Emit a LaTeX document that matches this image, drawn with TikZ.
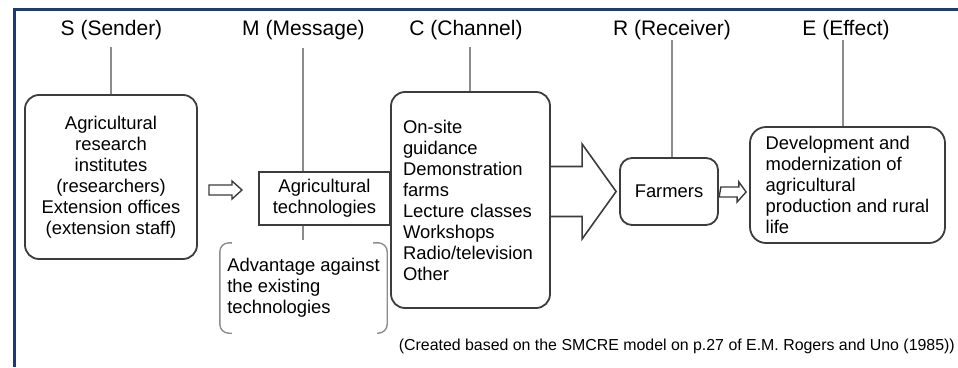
\documentclass[tikz,border=0pt]{standalone}
\usepackage{fontspec}
\setmainfont{Liberation Sans}
\usetikzlibrary{calc}
\definecolor{framenavy}{RGB}{31,56,120}
\definecolor{boxline}{RGB}{60,60,60}
\definecolor{stemgray}{RGB}{140,140,140}

\begin{document}
\begin{tikzpicture}[x=1pt,y=-1pt,
  body/.style={font=\fontsize{18.4}{21}\selectfont},
  head/.style={font=\fontsize{21}{25}\selectfont, inner sep=0pt, anchor=base},
  roundbox/.style={body, draw=boxline, line width=1.8pt, inner sep=0pt},
  stem/.style={draw=stemgray, line width=1.2pt},
  hollow/.style={draw=boxline, line width=1.4pt, line join=miter},
  bracket/.style={draw=stemgray, line width=1.4pt, rounded corners=9pt},
]
\useasboundingbox (0,0) rectangle (958,367);

% outer frame (top and left edges only)
\draw[framenavy, line width=2.2pt] (14.5,367) -- (14.5,9.5) -- (958,9.5);

% column headings
\node[head] (hS) at (111.5,35.5) {S (Sender)};
\node[head] (hM) at (303.5,35.5) {M (Message)};
\node[head] (hC) at (466,35.5) {C (Channel)};
\node[head] (hR) at (672,35.5) {R (Receiver)};
\node[head] (hE) at (846,35.5) {E (Effect)};

% boxes
\node[roundbox, rounded corners=14pt, minimum width=172pt, minimum height=164pt, align=center]
  (sbox) at (111,177) {Agricultural\\research\\institutes\\(researchers)\\Extension offices\\(extension staff)};
\node[body, draw=boxline, line width=1.5pt, inner sep=0pt, minimum width=131pt, minimum height=53pt, align=center]
  (mbox) at (324.5,198.5) {Agricultural\\technologies};
\node[roundbox, rounded corners=14pt, minimum width=159pt, minimum height=216pt, text width=135pt, align=left]
  (cbox) at (470.5,200) {On-site\\guidance\\Demonstration\\farms\\Lecture classes\\Workshops\\Radio/television\\Other};
\node[roundbox, rounded corners=12pt, minimum width=98pt, minimum height=67pt]
  (rbox) at (669,191.5) {Farmers};
\node[roundbox, rounded corners=16pt, minimum width=195pt, minimum height=116pt, align=left]
  (ebox) at (847.5,185) {Development and\\modernization of\\agricultural\\production and rural\\life};
\node[body, inner sep=0pt, minimum width=167pt, minimum height=90pt, align=left]
  (adv) at (303.5,288) {Advantage against\\the existing\\technologies};

% brackets around the advantage note
\draw[bracket] ([xshift=12pt]adv.north west) -- (adv.north west) -- (adv.south west) -- ([xshift=12pt]adv.south west);
\draw[bracket] ([xshift=-14pt]adv.north east) -- (adv.north east) -- (adv.south east) -- ([xshift=-10pt]adv.south east);

% stems from headings down to boxes
\coordinate (tS) at (111,47);
\coordinate (tM) at (303,48);
\coordinate (tC) at (470,47);
\coordinate (tR) at (672,40);
\coordinate (tE) at (843,40);
\draw[stem] (tS) -- (tS |- sbox.north);
\draw[stem] (tM) -- (tM |- mbox.north);
\draw[stem] (tM |- mbox.south) -- ($(tM |- adv.north)+(0,-3)$);
\draw[stem] (tC) -- (tC |- cbox.north);
\draw[stem] (tR) -- (tR |- rbox.north);
\draw[stem] (tE) -- (tE |- ebox.north);

% small hollow arrows
\coordinate (a1s) at (209,190);
\coordinate (a1e) at (242,190);
\draw[hollow] (a1s) ++(0,-5) -- ++(23,0) -- ++(0,-4) -- (a1e) -- ++(-10,9) -- ++(0,-4) -- ++(-23,0) -- cycle;
\coordinate (a2s) at ($(rbox.east)+(2,0.5)$);
\coordinate (a2e) at ($(ebox.west |- a2s)+(-3,0)$);
\draw[hollow] (a2s) ++(0,-5) -- ++(18,0) -- ++(0,-5) -- (a2e) -- ++(-9,10) -- ++(0,-5) -- ++(-18,0) -- cycle;

% large hollow arrow from channel to receiver
\coordinate (bt) at ($(rbox.west)+(-3,0)$);
\coordinate (bb) at ($(rbox.west)+(-37,0)$);
\coordinate (bs) at (cbox.east |- bb);
\draw[hollow, line width=1.6pt] ($(bs)+(0,-25)$) -- ($(bb)+(0,-25)$) -- ($(bb)+(0,-47.5)$) -- (bt)
  -- ($(bb)+(0,47.5)$) -- ($(bb)+(0,25)$) -- ($(bs)+(0,25)$);

% source note
\node[font=\fontsize{15.9}{19}\selectfont, anchor=base east, inner sep=0pt] (cap) at (955,350)
  {(Created based on the SMCRE model on p.27 of E.M. Rogers and Uno (1985))};
\end{tikzpicture}
\end{document}
